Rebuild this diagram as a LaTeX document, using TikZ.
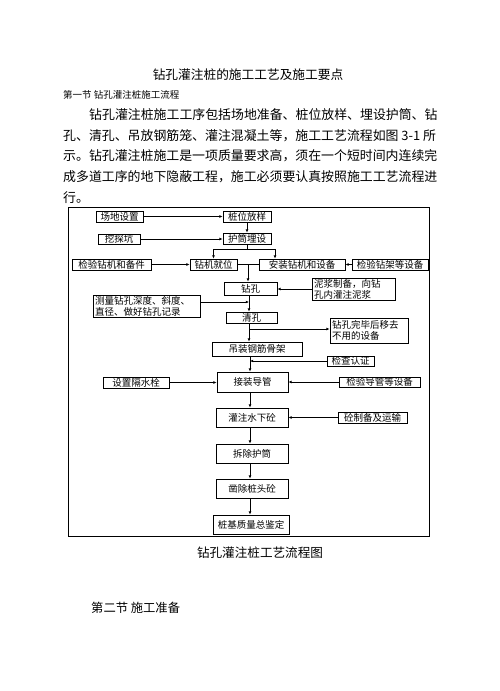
\documentclass[tikz,border=0pt]{standalone}
\usepackage{fontspec}
\newfontfamily\cjk{Noto Sans CJK SC}
\usetikzlibrary{arrows.meta}
\begin{document}
\begin{tikzpicture}[x=1pt,y=-1pt,
  box/.style={draw, line width=0.7pt, inner sep=0pt, font=\cjk\fontsize{9.5}{10.8}\selectfont, align=center},
  lbox/.style={box, align=left, inner xsep=2pt},
  txt/.style={inner sep=0pt, anchor=west},
  ln/.style={line width=0.7pt},
  arr/.style={line width=0.7pt, -{Latex[length=3.2pt,width=2.8pt]}}]
\fill[white] (0,0) rectangle (499,691);
\useasboundingbox (0,0) rectangle (499,691);
% texts
\node[txt, anchor=center, font=\cjk\fontsize{12.7}{14}\selectfont] (title) at (248,75) {钻孔灌注桩的施工工艺及施工要点};
\node[txt, font=\cjk\fontsize{9.5}{11}\selectfont] (sec1) at (63,95) {第一节 钻孔灌注桩施工流程};
\node[txt, font=\cjk\fontsize{12.9}{14}\selectfont] (p1) at (89,114.7) {钻孔灌注桩施工工序包括场地准备、桩位放样、埋设护筒、钻};
\node[txt, font=\cjk\fontsize{12.9}{14}\selectfont] (p2) at (63,135.4) {孔、清孔、吊放钢筋笼、灌注混凝土等，施工工艺流程如图 3-1 所};
\node[txt, font=\cjk\fontsize{12.9}{14}\selectfont] (p3) at (63,156.1) {示。钻孔灌注桩施工是一项质量要求高，须在一个短时间内连续完};
\node[txt, font=\cjk\fontsize{12.9}{14}\selectfont] (p4) at (63,176.8) {成多道工序的地下隐蔽工程，施工必须要认真按照施工工艺流程进};
\node[txt, font=\cjk\fontsize{12.9}{14}\selectfont] (p5) at (63,197.5) {行。};
\node[txt, anchor=center, font=\cjk\fontsize{12.6}{14}\selectfont] (cap) at (260,553) {钻孔灌注桩工艺流程图};
\node[txt, font=\cjk\fontsize{12.3}{14}\selectfont] (sec2) at (91,608) {第二节 施工准备};
% frame
\draw[line width=0.9pt] (68,207) rectangle (429,536);
% boxes
\node[box, minimum width=47pt, minimum height=11pt] (a1) at (119.5,216.5) {场地设置};
\node[box, minimum width=48pt, minimum height=11pt] (a2) at (247,216.5) {桩位放样};
\node[box, minimum width=42pt, minimum height=10pt] (a3) at (119,239) {挖探坑};
\node[box, minimum width=48pt, minimum height=11pt] (a4) at (247,238.5) {护筒埋设};
\node[box, minimum width=79pt, minimum height=11pt] (a5) at (111.5,264.5) {检验钻机和备件};
\node[box, minimum width=47pt, minimum height=11pt] (a6) at (213.5,264.5) {钻机就位};
\node[box, minimum width=86pt, minimum height=11pt] (a7) at (302,264.5) {安装钻机和设备};
\node[box, minimum width=76pt, minimum height=11pt] (a8) at (390,264.5) {检验钻架等设备};
\node[box, minimum width=53pt, minimum height=13pt] (a9) at (250.5,288.5) {钻孔};
\node[lbox, minimum width=83pt, minimum height=22pt, text width=79pt] (a10) at (353.5,289) {泥浆制备，向钻\\孔内灌注泥浆};
\node[lbox, minimum width=107pt, minimum height=22pt, text width=103pt] (a11) at (146.5,306) {测量钻孔深度、斜度、\\直径、做好钻孔记录};
\node[box, minimum width=51pt, minimum height=11pt] (a12) at (251.5,317.5) {清孔};
\node[lbox, minimum width=78pt, minimum height=25pt, text width=74pt] (a13) at (369,330.5) {钻孔完毕后移去\\不用的设备};
\node[box, minimum width=90pt, minimum height=14pt] (a14) at (257,349) {吊装钢筋骨架};
\node[box, minimum width=47pt, minimum height=10pt] (a15) at (350.5,361) {检查认证};
\node[box, minimum width=71pt, minimum height=20pt] (a16) at (252.5,382) {接装导管};
\node[box, minimum width=66pt, minimum height=11pt] (a17) at (136,382.5) {设置隔水栓};
\node[box, minimum width=81pt, minimum height=10pt] (a18) at (379.5,382) {检验导管等设备};
\node[box, minimum width=72pt, minimum height=19pt] (a19) at (252,417.5) {灌注水下砼};
\node[box, minimum width=69pt, minimum height=11pt] (a20) at (372.5,417.5) {砼制备及运输};
\node[box, minimum width=72pt, minimum height=19pt] (a21) at (252,453.5) {拆除护筒};
\node[box, minimum width=72pt, minimum height=19pt] (a22) at (252,488.5) {凿除桩头砼};
\node[box, minimum width=76pt, minimum height=19pt] (a23) at (251,524.5) {桩基质量总鉴定};
% connectors
\draw[arr] (a1.east) -- (a2.west);
\draw[arr] (a3.east) -- (a3.east -| a4.west);
\draw[arr] (a2.south) -- (a4.north);
\coordinate (j0) at (247,249);
\coordinate (bL) at (213.5,249);
\coordinate (bR) at (275,249);
\draw[ln] (a4.south) -- (j0);
\draw[ln] (bL) -- (bR);
\draw[arr] (bL) -- (a6.north);
\draw[arr] (bR) -- (bR |- a7.north);
\draw[arr] (a5.east) -- (a6.west);
\draw[arr] (a8.west) -- (a7.east);
\draw[ln] (a6.east) -- (a7.west);
\coordinate (j2) at (248,264.5);
\draw[arr] (j2) -- (j2 |- a9.north);
\draw[arr] (a10.west) -- (a10.west -| a9.east);
\coordinate (mx) at (249,0);
\coordinate (mx2) at (250,0);
\draw[arr] (a9.south -| mx) -- (a12.north -| mx);
\coordinate (k1) at (249,302);
\draw[arr] (a11.east |- k1) -- (k1);
\draw[arr] (a12.south -| mx) -- (a14.north -| mx);
\coordinate (k2) at (249,329);
\draw[arr] (k2) -- (k2 -| a13.west);
\draw[arr] (a14.south -| mx2) -- (a16.north -| mx2);
\coordinate (k3) at (250,361);
\draw[arr] (a15.west) -- (k3);
\draw[arr] (a17.east) -- (a17.east -| a16.west);
\draw[arr] (a18.west) -- (a18.west -| a16.east);
\draw[arr] (a16.south -| mx2) -- (a19.north -| mx2);
\draw[arr] (a20.west) -- (a20.west -| a19.east);
\draw[arr] (a19.south -| mx2) -- (a21.north -| mx2);
\draw[arr] (a21.south -| mx2) -- (a22.north -| mx2);
\draw[arr] (a22.south -| mx2) -- (a23.north -| mx2);
\end{tikzpicture}
\end{document}
